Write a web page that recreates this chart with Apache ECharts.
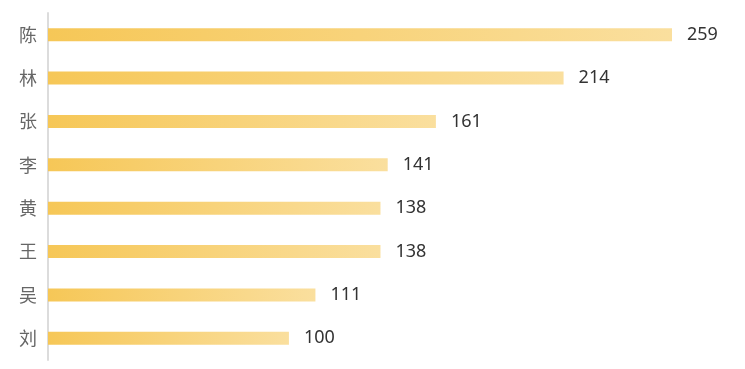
<!DOCTYPE html>
<html><head><meta charset="utf-8">
<script src="https://cdn.jsdelivr.net/npm/echarts@6/dist/echarts.min.js"></script>
<style>html,body{margin:0;padding:0;background:#fff}#c{width:745px;height:369px}</style>
</head><body><div id="c"></div>
<script>
const categories = ['陈','林','张','李','黄','王','吴','刘'];
const values = [259,214,161,141,138,138,111,100];
const chart = echarts.init(document.getElementById('c'));
chart.setOption({
  animation: false,
  grid: {left: 48, right: 73, top: 13, bottom: 9},
  xAxis: {type: 'value', min: 0, max: 259, show: false},
  yAxis: {
    type: 'category', inverse: true, data: categories,
    axisLine: {show: true, lineStyle: {color: '#dcdcdc', width: 2}},
    axisTick: {show: false},
    axisLabel: {color: '#666', fontSize: 18, margin: 11, fontFamily: 'Noto Sans CJK SC'}
  },
  series: [{
    type: 'bar', data: values, barWidth: 13,
    itemStyle: {color: new echarts.graphic.LinearGradient(0,0,1,0,[{offset:0,color:'#f6c757'},{offset:1,color:'#fadf9e'}])},
    label: {show: true, position: 'right', distance: 15, color: '#333', fontSize: 18, fontFamily: 'Noto Sans'}
  }]
});
</script></body></html>
